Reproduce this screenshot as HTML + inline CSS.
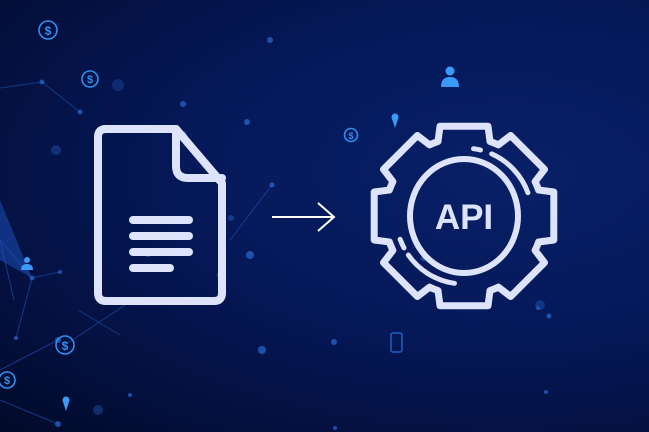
<!DOCTYPE html>
<html><head><meta charset="utf-8"><style>
html,body{margin:0;padding:0;width:649px;height:432px;overflow:hidden;}
body{background:radial-gradient(ellipse at 78% 40%,#082068 0%,#051858 45%,#030f3c 80%,#020a28 100%);}
svg{position:absolute;left:0;top:0;display:block;}
</style></head><body>
<svg width="649" height="432" viewBox="0 0 649 432">
<g stroke="#1f55b5" stroke-width="1" opacity="0.6" fill="none">
<path d="M0 88 L42 82 L80 112"/><path d="M0 240 L32 278 L60 272"/><path d="M32 278 L16 338"/>
<path d="M0 240 L14 300"/><path d="M0 400 L58 424"/><path d="M0 370 L58 340"/>
<path d="M78 310 L120 335"/><path d="M230 240 L272 185"/><path d="M125 305 L65 345"/>
</g>
<path d="M0 200 L32 278 L0 260 Z" fill="#1c4fb8" opacity="0.55"/>
<g fill="#2a6ad0" opacity="0.7">
<circle cx="42" cy="82" r="2.5"/><circle cx="80" cy="112" r="2.5"/><circle cx="32" cy="278" r="2.5"/><circle cx="60" cy="272" r="2"/>
<circle cx="16" cy="338" r="2"/><circle cx="272" cy="185" r="2.5"/><circle cx="58" cy="424" r="3"/><circle cx="58" cy="340" r="3"/>
<circle cx="270" cy="40" r="3"/><circle cx="247" cy="122" r="3"/><circle cx="183" cy="104" r="3"/><circle cx="183" cy="135" r="4"/>
<circle cx="56" cy="150" r="5" opacity="0.5"/><circle cx="118" cy="85" r="6" opacity="0.4"/>
<circle cx="335" cy="428" r="2"/><circle cx="546" cy="392" r="2"/><circle cx="334" cy="342" r="3"/><circle cx="262" cy="350" r="4"/>
<circle cx="549" cy="316" r="2.5"/><circle cx="538" cy="308" r="2"/><circle cx="98" cy="410" r="5" opacity="0.5"/>
<circle cx="148" cy="255" r="2"/><circle cx="220" cy="275" r="3"/><circle cx="250" cy="255" r="4"/><circle cx="424" cy="258" r="3"/>
<circle cx="540" cy="305" r="5" opacity="0.5"/><circle cx="130" cy="395" r="2"/><circle cx="231" cy="218" r="3" opacity="0.6"/>
</g>
<g fill="none" stroke="#2f8ff0" stroke-width="1.6">
<circle cx="48" cy="30" r="9"/><circle cx="90" cy="79" r="8"/><circle cx="65" cy="345" r="9"/><circle cx="7" cy="380" r="8"/><circle cx="351" cy="135" r="6.5"/>
</g>
<g fill="#2f8ff0" font-family="Liberation Sans, sans-serif" font-weight="bold" text-anchor="middle">
<text x="48" y="35" font-size="12">$</text><text x="90" y="83" font-size="11">$</text><text x="65" y="350" font-size="12">$</text><text x="7" y="384" font-size="11">$</text><text x="351" y="139" font-size="9">$</text>
</g>
<g fill="#3a9af5"><circle cx="450" cy="71" r="4.5"/><path d="M441 87 Q441 77 450 77 Q459 77 459 87 Z"/>
<circle cx="27" cy="260" r="3"/><path d="M21 270 Q21 264 27 264 Q33 264 33 270 Z"/>
<circle cx="395" cy="117" r="3.5"/><path d="M392 119 L395 128 L398 119 Z"/>
<circle cx="66" cy="400" r="3.5"/><path d="M63 402 L66 411 L69 402 Z"/></g>
<rect x="391" y="333" width="11" height="19" rx="2" fill="none" stroke="#1f60c0" stroke-width="1.5"/>
<g fill="none" stroke="#dce3fb" stroke-width="8" stroke-linecap="round" stroke-linejoin="round">
<path d="M104 129 L176 129 L222 183 L222 293 Q222 301 214 301 L106 301 Q98 301 98 293 L98 137 Q98 129 106 129"/>
<path d="M176 129 L176 166 Q176 178 188 178 L222 178"/>
<path d="M133 220 L189 220 M133 236 L189 236 M133 252 L189 252 M133 268 L170 268"/>
</g>
<g fill="none" stroke="#ffffff" stroke-width="2">
<path d="M272 217 L334 217"/><path d="M318 203 L334 217 L318 231"/>
</g>
<path id="gear" fill="none" stroke="#dce3fb" stroke-width="7" stroke-linejoin="round"/>
<ellipse cx="464" cy="216" rx="54" ry="57" fill="none" stroke="#dce3fb" stroke-width="6"/>
<g fill="none" stroke="#dce3fb" stroke-width="5" stroke-linecap="round">
<path id="a1"/><path id="a2"/><path id="a3"/><path id="a4"/>
</g>
<text x="464" y="229" fill="#dce3fb" font-family="Liberation Sans, sans-serif" font-weight="bold" font-size="35" text-anchor="middle">API</text>
</svg>
<script>
(function(){
var cx=464,cy=216,R=93,r=79,n=8,d="";
var ta=Math.asin(24/R),tb=Math.asin(26/r);
for(var i=0;i<n;i++){
 var a=-Math.PI/2+i*2*Math.PI/n;
 var pts=[[r,a-tb],[R,a-ta],[R,a+ta],[r,a+tb]];
 pts.forEach(function(p,j){var x=cx+p[0]*Math.cos(p[1]),y=cy+p[0]*Math.sin(p[1]);
  if(i==0&&j==0)d+="M"+x.toFixed(1)+" "+y.toFixed(1);
  else if(j==0)d+=" A"+r+" "+r+" 0 0 1 "+x.toFixed(1)+" "+y.toFixed(1);
  else d+=" L"+x.toFixed(1)+" "+y.toFixed(1);});
}
var a0=-Math.PI/2-tb;d+=" A"+r+" "+r+" 0 0 1 "+(cx+r*Math.cos(a0)).toFixed(1)+" "+(cy+r*Math.sin(a0)).toFixed(1)+" Z";
document.getElementById('gear').setAttribute('d',d);
function arc(id,rr,s,e){s=s*Math.PI/180;e=e*Math.PI/180;
 document.getElementById(id).setAttribute('d',"M"+(cx+rr*Math.cos(s)).toFixed(1)+" "+(cy+rr*Math.sin(s)).toFixed(1)+" A"+rr+" "+rr+" 0 0 1 "+(cx+rr*Math.cos(e)).toFixed(1)+" "+(cy+rr*Math.sin(e)).toFixed(1));}
arc('a1',68,-82,-76);arc('a2',68,-66,-20);arc('a3',68,98,145);arc('a4',68,152,160);
})();
</script>
</body></html>
